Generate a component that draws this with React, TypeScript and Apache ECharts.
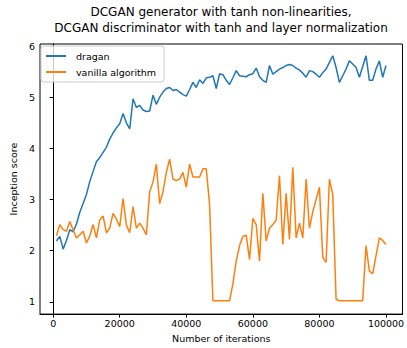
import React, { useEffect, useRef } from "react";
import * as echarts from "echarts";

const iterations: number[] = Array.from({ length: 100 }, (_, i) => (i + 1) * 1000);

const dragan: number[] = [
  2.19, 2.28, 2.03, 2.2, 2.41, 2.37, 2.52, 2.75, 2.92, 3.1,
  3.35, 3.55, 3.74, 3.82, 3.92, 4.02, 4.18, 4.3, 4.4, 4.48,
  4.68, 4.5, 4.38, 4.97, 4.8, 4.84, 4.75, 4.72, 4.73, 5.04,
  4.86, 5.0, 5.1, 5.17, 5.19, 5.13, 5.15, 5.1, 5.05, 5.02,
  5.15, 5.29, 5.19, 5.34, 5.27, 5.38, 5.39, 5.42, 5.17, 5.46,
  5.44, 5.33, 5.25, 5.38, 5.52, 5.42, 5.41, 5.4, 5.44, 5.46,
  5.57, 5.4, 5.33, 5.29, 5.62, 5.45, 5.5, 5.55, 5.58, 5.62,
  5.64, 5.62, 5.57, 5.53, 5.47, 5.39, 5.52, 5.5, 5.45, 5.39,
  5.48, 5.55, 5.68, 5.81, 5.58, 5.29, 5.42, 5.55, 5.71, 5.65,
  5.58, 5.39, 5.6, 5.81, 5.33, 5.33, 5.55, 5.71, 5.39, 5.62,
];

const vanilla: number[] = [
  2.29, 2.51, 2.41, 2.38, 2.57, 2.41, 2.25, 2.31, 2.38, 2.15,
  2.29, 2.51, 2.25, 2.6, 2.68, 2.35, 2.44, 2.73, 2.62, 2.47,
  3.02, 2.5, 2.35, 2.86, 2.44, 2.54, 2.44, 2.31, 3.15, 3.34,
  3.69, 2.92, 3.15, 3.53, 3.79, 3.4, 3.37, 3.4, 3.53, 3.24,
  3.69, 3.44, 3.44, 3.44, 3.6, 3.6, 2.9, 1.02, 1.02, 1.02,
  1.02, 1.02, 1.02, 1.35, 1.8, 2.1, 2.28, 2.3, 1.83, 2.63,
  2.51, 1.8, 3.12, 2.19, 2.44, 2.51, 2.6, 3.47, 2.12, 3.12,
  2.22, 3.63, 2.25, 2.54, 2.25, 3.4, 2.44, 2.76, 3.0, 3.24,
  1.87, 1.77, 3.4, 3.1, 1.05, 1.02, 1.02, 1.02, 1.02, 1.02,
  1.02, 1.02, 1.02, 2.1, 1.6, 1.55, 1.9, 2.25, 2.2, 2.12,
];

const xTicks: number[] = [0, 20000, 40000, 60000, 80000, 100000];
const yTicks: number[] = [1, 2, 3, 4, 5, 6];

const titleLines: string[] = [
  "DCGAN generator with tanh non-linearities,",
  "DCGAN discriminator with tanh and layer normalization",
];

const FONT = "DejaVu Sans";

export default function App() {
  const ref = useRef<HTMLDivElement>(null);
  useEffect(() => {
    if (!ref.current) return;
    const chart = echarts.init(ref.current, undefined, { renderer: "svg" });
    chart.setOption({
      animation: false,
      backgroundColor: "#ffffff",
      textStyle: { fontFamily: FONT },
      graphic: titleLines.map((t, i) => ({
        type: "text",
        x: 221,
        y: 12 + i * 16,
        style: {
          text: t,
          fill: "#000",
          font: `12px '${FONT}'`,
          textAlign: "center",
          textVerticalAlign: "middle",
        },
      })),
      grid: { left: 37, right: 2, top: 44, bottom: 29, show: true, borderColor: "#000", borderWidth: 1 },
      legend: {
        left: 41,
        top: 46,
        orient: "vertical",
        padding: [4, 8, 4, 5],
        itemGap: 4,
        itemWidth: 20,
        itemHeight: 2,
        icon: "rect",
        borderColor: "#cccccc",
        borderWidth: 1,
        borderRadius: 3,
        backgroundColor: "rgba(255,255,255,0.8)",
        textStyle: { fontFamily: FONT, fontSize: 9.5, color: "#000", lineHeight: 12, padding: [0, 0, 0, 5] },
        data: ["dragan", "vanilla algorithm"],
      },
      xAxis: {
        type: "value",
        min: -3950,
        max: 104950,
        name: "Number of iterations",
        nameLocation: "middle",
        nameGap: 15,
        nameTextStyle: { fontFamily: FONT, fontSize: 9.5, color: "#000" },
        axisLine: { show: true, lineStyle: { color: "#000", width: 1 } },
        axisTick: { show: true, length: 3.5, customValues: xTicks, lineStyle: { color: "#000" } },
        axisLabel: {
          customValues: xTicks,
          formatter: (v: number) => String(v),
          fontFamily: FONT,
          fontSize: 9.5,
          color: "#000",
          margin: 4,
        },
        splitLine: { show: false },
      },
      yAxis: {
        type: "value",
        min: 0.76,
        max: 6.04,
        name: "Inception score",
        nameLocation: "middle",
        nameGap: 22,
        nameTextStyle: { fontFamily: FONT, fontSize: 9.5, color: "#000" },
        axisLine: { show: true, lineStyle: { color: "#000", width: 1 } },
        axisTick: { show: true, length: 3.5, customValues: yTicks, lineStyle: { color: "#000" } },
        axisLabel: {
          customValues: yTicks,
          formatter: (v: number) => String(v),
          fontFamily: FONT,
          fontSize: 9.5,
          color: "#000",
          margin: 5,
        },
        splitLine: { show: false },
      },
      series: [
        {
          name: "dragan",
          type: "line",
          data: iterations.map((x, i) => [x, dragan[i]]),
          showSymbol: false,
          symbol: "none",
          lineStyle: { color: "#1f77b4", width: 1.5 },
          itemStyle: { color: "#1f77b4" },
        },
        {
          name: "vanilla algorithm",
          type: "line",
          data: iterations.map((x, i) => [x, vanilla[i]]),
          showSymbol: false,
          symbol: "none",
          lineStyle: { color: "#ff7f0e", width: 1.5 },
          itemStyle: { color: "#ff7f0e" },
        },
      ],
    });
    return () => chart.dispose();
  }, []);
  return (
    <div
      ref={ref}
      style={{ position: "absolute", left: 0, top: 0, width: 407, height: 348 }}
    />
  );
}
